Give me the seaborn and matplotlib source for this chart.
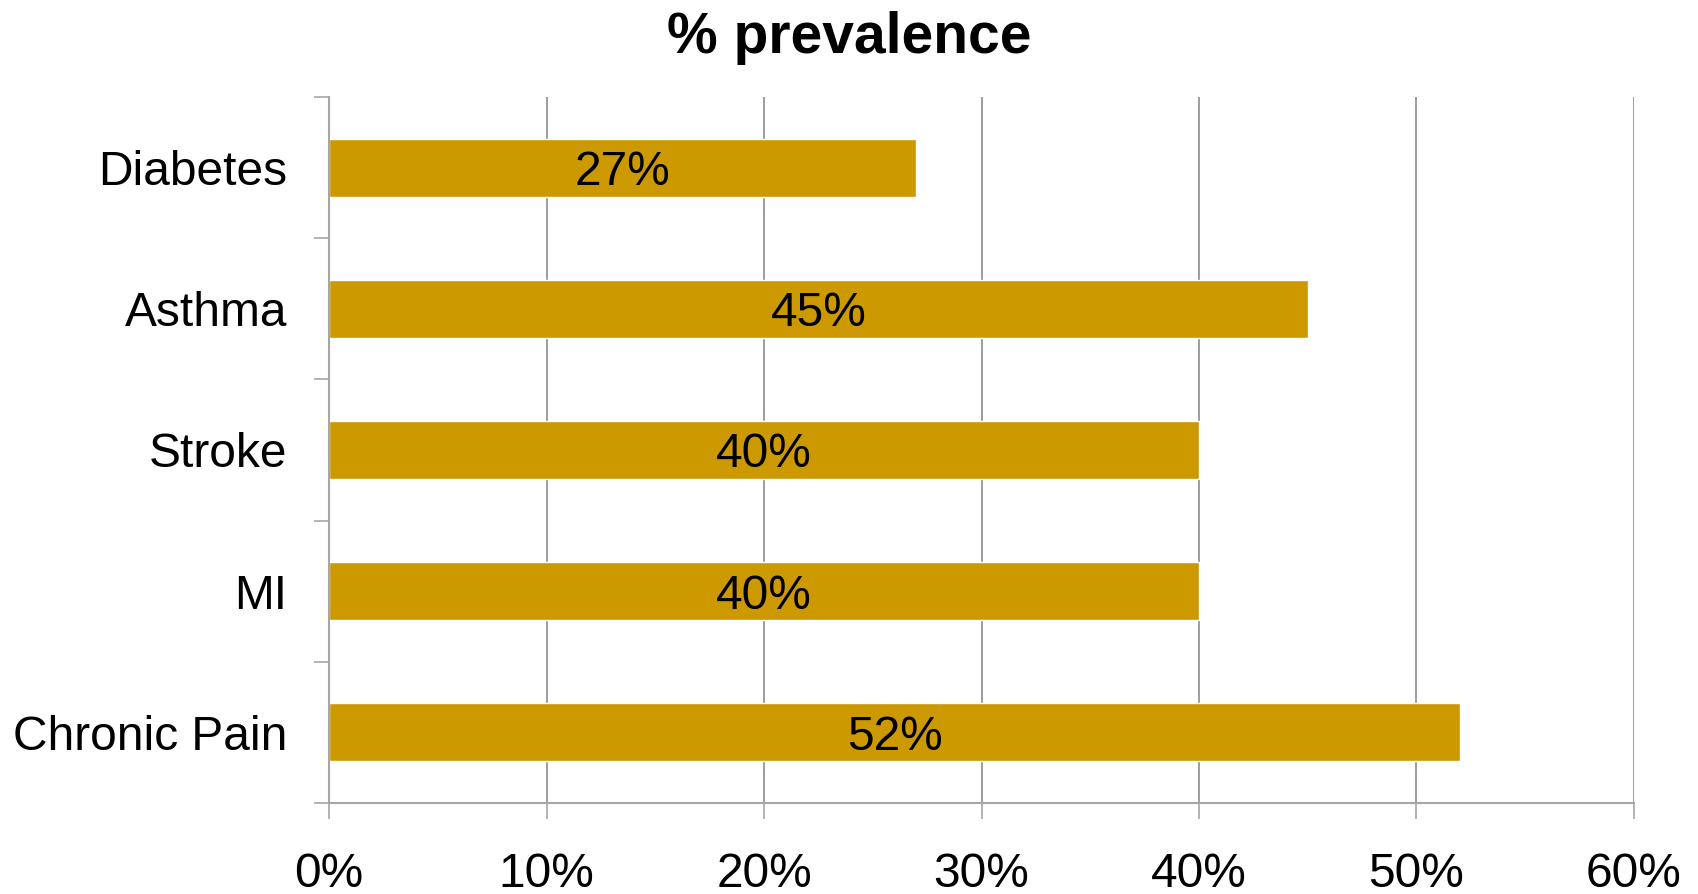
import matplotlib
matplotlib.use("Agg")
import matplotlib.pyplot as plt
import seaborn as sns
import pandas as pd
from matplotlib.ticker import FixedLocator, FuncFormatter

categories = ["Diabetes", "Asthma", "Stroke", "MI", "Chronic Pain"]
values = [27, 45, 40, 40, 52]
x_ticks = [0, 10, 20, 30, 40, 50, 60]

sns.set_theme(style="white")
plt.rcParams['font.family'] = ['Liberation Sans', 'DejaVu Sans']

df = pd.DataFrame({"cat": categories, "val": values})

fig = plt.figure(figsize=(16.98, 8.94), dpi=100)
ax = fig.add_axes([0.1938, 0.1018, 0.7685, 0.7897])

sns.barplot(data=df, y="cat", x="val", orient="h", color="#CC9900",
            saturation=1, width=0.41, ax=ax)

ax.set_xlim(0, 60)
ax.set_ylim(4.5, -0.5)
ax.set_xticks(x_ticks)
ax.xaxis.set_major_formatter(FuncFormatter(lambda v, p: f"{int(v)}%"))
ax.set_xlabel("")
ax.set_ylabel("")

ax.xaxis.grid(True, color="#8C8C8C", linewidth=1.2)
ax.set_axisbelow(True)

for s in ["top", "right"]:
    ax.spines[s].set_visible(False)
for s in ["left", "bottom"]:
    ax.spines[s].set_color("#A6A6A6")
    ax.spines[s].set_linewidth(1.5)

ax.yaxis.set_minor_locator(FixedLocator([-0.5, 0.5, 1.5, 2.5, 3.5, 4.5]))
ax.tick_params(axis="y", which="major", length=0, pad=30, labelsize=34.5, labelcolor="black")
ax.tick_params(axis="y", which="minor", length=10.5, width=1.2, color="#A6A6A6", left=True)
ax.tick_params(axis="x", which="major", length=11.5, width=1.2, color="#A6A6A6",
               bottom=True, pad=24, labelsize=34.5, labelcolor="black")

for c in ax.containers:
    texts = ax.bar_label(c, labels=[f"{v}%" for v in values], label_type="center",
                         fontsize=34.5, color="black")
    for t in texts:
        t.set_va("center_baseline")

fig.text(0.5, 0.958, "% prevalence", fontsize=41, fontweight="bold",
         color="black", ha="center", va="center")

fig.savefig("out.png", dpi=100)
